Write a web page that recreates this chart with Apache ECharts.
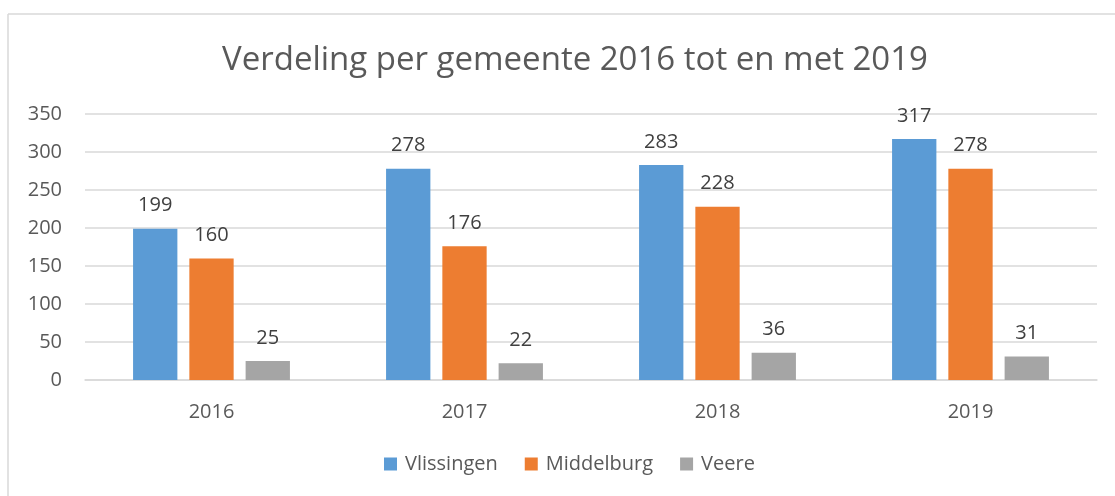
<!DOCTYPE html>
<html>
<head>
<meta charset="utf-8">
<script src="https://cdn.jsdelivr.net/npm/echarts@6/dist/echarts.min.js"></script>
<style>
  html, body { margin: 0; padding: 0; background: #fff; }
  #chart { width: 1115px; height: 496px; }
</style>
</head>
<body>
<div id="chart"></div>
<script>
const years = ['2016', '2017', '2018', '2019'];
const vlissingen = [199, 278, 283, 317];
const middelburg = [160, 176, 228, 278];
const veere = [25, 22, 36, 31];

const font = '"Open Sans", sans-serif';

const chart = echarts.init(document.getElementById('chart'));

function barSeries(name, data, color) {
  return {
    name: name,
    type: 'bar',
    data: data,
    barGap: '27%',
    barCategoryGap: '38%',
    itemStyle: { color: color },
    label: {
      show: true,
      position: 'top',
      distance: 13,
      color: '#404040',
      fontSize: 20,
      fontFamily: font
    }
  };
}

const option = {
  animation: false,
  title: {
    text: 'Verdeling per gemeente 2016 tot en met 2019',
    left: 217,
    top: 39,
    textStyle: {
      color: '#595959',
      fontSize: 33,
      fontWeight: 'normal',
      fontFamily: font
    }
  },
  graphic: [
    { type: 'line', shape: { x1: 8, y1: 14, x2: 1115, y2: 14 }, style: { stroke: '#d9d9d9', lineWidth: 1.5 } },
    { type: 'line', shape: { x1: 8, y1: 14, x2: 8, y2: 496 }, style: { stroke: '#d9d9d9', lineWidth: 1.5 } }
  ],
  legend: {
    bottom: 17,
    left: 379,
    itemWidth: 13,
    itemHeight: 13,
    itemGap: 27,
    icon: 'rect',
    textStyle: { color: '#595959', fontSize: 20, fontFamily: font, padding: [0, 0, 0, 3] }
  },
  grid: {
    left: 85,
    right: 18,
    top: 114,
    bottom: 116
  },
  xAxis: {
    type: 'category',
    data: years,
    axisLine: { lineStyle: { color: '#d9d9d9', width: 1.5 } },
    axisTick: { show: false },
    axisLabel: { color: '#595959', fontSize: 20, fontFamily: font, margin: 22 }
  },
  yAxis: {
    type: 'value',
    min: 0,
    max: 350,
    interval: 50,
    axisLine: { show: false },
    axisTick: { show: false },
    splitLine: { lineStyle: { color: '#d9d9d9', width: 1.5 } },
    axisLabel: { color: '#595959', fontSize: 20, fontFamily: font, margin: 23 }
  },
  series: [
    barSeries('Vlissingen', vlissingen, '#5b9bd5'),
    barSeries('Middelburg', middelburg, '#ed7d31'),
    barSeries('Veere', veere, '#a5a5a5')
  ]
};

chart.setOption(option);
</script>
</body>
</html>
